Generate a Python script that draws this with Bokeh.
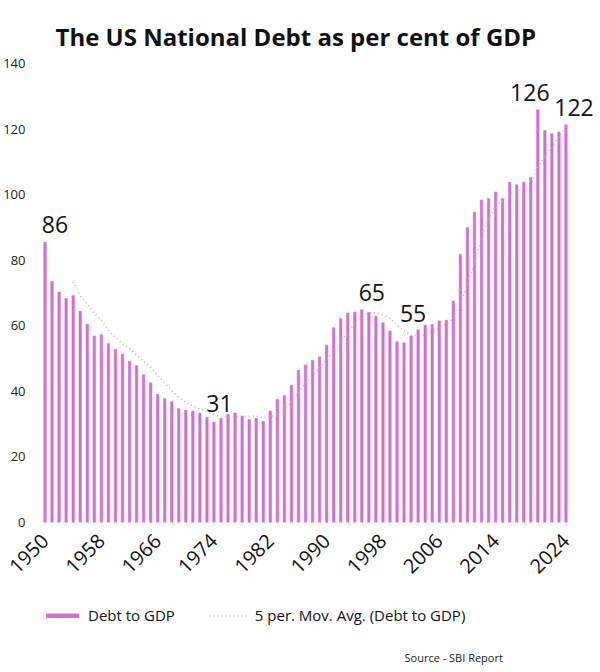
import math
import pandas as pd
from bokeh.plotting import figure
from bokeh.layouts import column
from bokeh.models import (ColumnDataSource, Range1d, FixedTicker, Legend, LegendItem,
                          Label, LabelSet)
from bokeh.core.properties import value
from bokeh.embed import file_html
from bokeh.resources import INLINE

years = list(range(1950, 2025))
debt_to_gdp = [85.5, 73.6, 70.3, 68.3, 69.2, 64.4, 60.5, 56.9, 57.3, 54.6,
               52.8, 51.3, 49.2, 47.9, 45.1, 42.6, 39.1, 37.8, 36.8, 34.8,
               34.2, 34.0, 33.4, 32.0, 30.6, 31.7, 33.0, 33.4, 32.5, 31.4,
               31.8, 30.9, 34.0, 37.6, 38.7, 41.8, 46.4, 48.1, 49.5, 50.5,
               54.1, 59.4, 62.2, 63.9, 64.2, 64.9, 64.1, 62.9, 60.9, 58.4,
               55.1, 54.8, 56.9, 58.8, 60.2, 60.4, 61.5, 61.7, 67.5, 81.8,
               90.0, 94.6, 98.4, 98.8, 100.8, 98.8, 103.8, 103.0, 103.8, 105.2,
               125.9, 119.6, 118.6, 119.1, 121.3]

label_years = [1950, 1974, 1995, 2001, 2020, 2024]
label_texts = ["86", "31", "65", "55", "126", "122"]

x_ticks = [1950, 1958, 1966, 1974, 1982, 1990, 1998, 2006, 2014, 2024]
y_ticks = [0, 20, 40, 60, 80, 100, 120, 140]

FONT = "Open Sans"
BAR = "#D36FD1"
MA_COLOR = "#d9a9a9"

ma = pd.Series(debt_to_gdp, index=years).rolling(5).mean().dropna()

src = ColumnDataSource(dict(x=years, top=debt_to_gdp))
ma_src = ColumnDataSource(dict(x=list(ma.index), y=list(ma.values)))
lbl_vals = [debt_to_gdp[years.index(y)] for y in label_years]
lbl_src = ColumnDataSource(dict(x=label_years, y=lbl_vals, text=label_texts,
                                xo=[10, 5.5, 10, 9, -8, 8],
                                yo=[18, 19, 17.6, 29, 17.6, 17.3]))

# ---------------- main chart ----------------
p = figure(frame_width=559, frame_height=459, output_backend="svg", toolbar_location=None,
           x_range=Range1d(1949.5, 1949.5 + 559 / 7.04), y_range=Range1d(0, 140),
           min_border_left=41, min_border_right=0, min_border_top=63,
           min_border_bottom=68)
p.outline_line_color = None
p.grid.visible = False
p.background_fill_color = "white"
p.border_fill_color = "white"

p.title.text = "The US National Debt as per cent of GDP"
p.title.align = "left"
p.title.offset = 14
p.title.text_font = FONT
p.title.text_font_size = "24px"
p.title.text_font_style = "bold"
p.title.text_color = "#111111"
p.title.standoff = 21

bars = p.vbar(x="x", top="top", width=0.36, source=src, fill_color=BAR,
              line_color=BAR, line_width=0.5)
p.line(x="x", y="y", source=ma_src, line_color=MA_COLOR,
       line_width=1.6, line_dash="1 3")

labels = LabelSet(x="x", y="y", text="text", source=lbl_src, x_offset="xo",
                  y_offset="yo", text_align="center", text_baseline="middle",
                  text_font=value(FONT), text_font_size=value("23px"),
                  text_color=value("#111111"))
p.add_layout(labels)

p.yaxis.ticker = FixedTicker(ticks=y_ticks)
p.yaxis.axis_line_color = None
p.yaxis.major_tick_line_color = None
p.yaxis.minor_tick_line_color = None
p.yaxis.major_label_text_font = FONT
p.yaxis.major_label_text_font_size = "13px"
p.yaxis.major_label_text_color = "#222222"
p.yaxis.major_label_standoff = 10

p.xaxis.ticker = FixedTicker(ticks=x_ticks)
p.xaxis.axis_line_color = None
p.xaxis.major_tick_line_color = None
p.xaxis.minor_tick_line_color = None
p.xaxis.major_label_orientation = math.pi / 4
p.xaxis.major_label_text_font = FONT
p.xaxis.major_label_text_font_size = "20px"
p.xaxis.major_label_text_color = "#111111"
p.xaxis.major_label_standoff = 9

# ---------------- legend + source strip ----------------
# (frames of the column are aligned, so screen x here is measured from x=41)
LH = 82
b = figure(width=600, height=LH, output_backend="svg", toolbar_location=None,
           x_range=Range1d(0, 600), y_range=Range1d(0, LH),
           x_axis_type=None, y_axis_type=None, min_border=0)
b.outline_line_color = None
b.grid.visible = False
leg_bar = b.vbar(x="x", top="top", width=0.36, source=src, fill_color=BAR, line_color=BAR)
leg_ma = b.line(x="x", y="y", source=ma_src, line_color=MA_COLOR, line_width=1.6,
                line_dash="1 3")

legend = Legend(items=[LegendItem(label="Debt to GDP", renderers=[leg_bar]),
                       LegendItem(label="5 per. Mov. Avg. (Debt to GDP)", renderers=[leg_ma])],
                orientation="horizontal", location=(1, 47),
                glyph_width=40, glyph_height=5, spacing=34, label_standoff=6,
                label_text_font=FONT, label_text_font_size="15px",
                label_text_color="#111111", border_line_color=None,
                background_fill_alpha=0, margin=0, padding=0)
b.add_layout(legend)

b.add_layout(Label(x=363, y=15, x_units="screen", y_units="screen",
                   text="Source  - SBI Report", text_font=FONT, text_font_size="11px",
                   text_baseline="middle", text_color="#222222"))

layout = column(p, b, spacing=0)
open("out.html", "w").write(file_html(layout, INLINE))
